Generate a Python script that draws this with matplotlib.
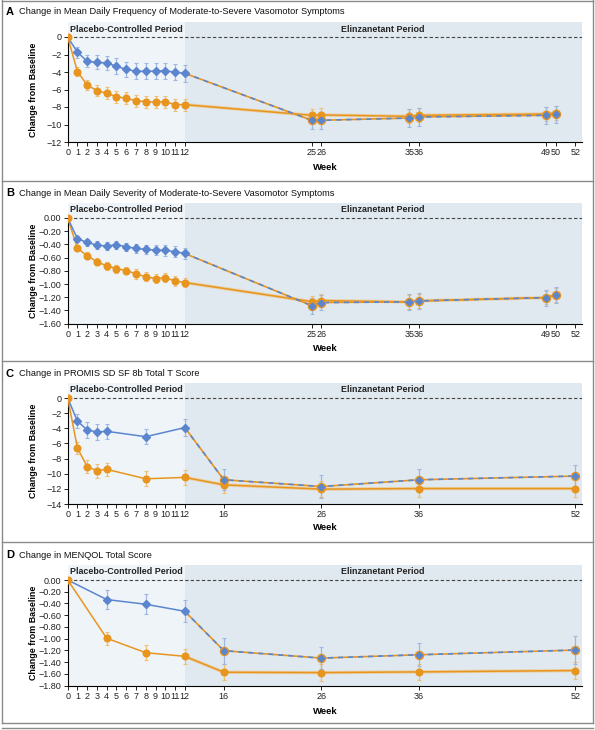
import numpy as np
import matplotlib.pyplot as plt
import matplotlib.transforms as mtransforms
from matplotlib.lines import Line2D

plt.rcParams['font.family'] = ['Liberation Sans', 'DejaVu Sans']

# panel A - daily frequency of VMS
weeks_a = [0, 1, 2, 3, 4, 5, 6, 7, 8, 9, 10, 11, 12, 25, 26, 35, 36, 49, 50]
pbo_a = [0, -1.75, -2.78, -2.9, -2.97, -3.35, -3.7, -3.92, -3.92, -3.9, -3.85, -4.04, -4.15,
         -9.52, -9.52, -9.26, -9.14, -8.95, -8.84]
pbo_a_err = [0, 0.6, 0.7, 0.8, 0.8, 0.9, 0.9, 0.9, 0.9, 0.9, 0.9, 0.9, 0.95,
             1.0, 1.0, 1.0, 1.0, 1.0, 1.0]
eli_a = [0, -3.96, -5.49, -6.13, -6.44, -6.82, -7.0, -7.28, -7.39, -7.43, -7.39, -7.73, -7.73,
         -8.95, -8.91, -9.07, -8.95, -8.8, -8.69]
eli_a_err = [0, 0.55, 0.6, 0.65, 0.7, 0.7, 0.7, 0.7, 0.7, 0.7, 0.7, 0.7, 0.7,
             0.75, 0.8, 0.8, 0.8, 0.8, 0.8]

# panel B - daily severity
weeks_b = weeks_a
pbo_b = [0, -0.314, -0.37, -0.41, -0.425, -0.405, -0.435, -0.46, -0.476, -0.486, -0.49, -0.51, -0.537,
         -1.327, -1.28, -1.27, -1.255, -1.205, -1.165]
pbo_b_err = [0, 0.04, 0.05, 0.06, 0.06, 0.06, 0.06, 0.07, 0.07, 0.07, 0.08, 0.08, 0.08,
             0.12, 0.12, 0.12, 0.12, 0.12, 0.12]
eli_b = [0, -0.46, -0.572, -0.663, -0.724, -0.765, -0.795, -0.846, -0.89, -0.916, -0.906, -0.952, -0.977,
         -1.266, -1.25, -1.27, -1.255, -1.205, -1.165]
eli_b_err = [0, 0.04, 0.05, 0.05, 0.06, 0.06, 0.06, 0.07, 0.07, 0.07, 0.07, 0.07, 0.07,
             0.09, 0.1, 0.1, 0.1, 0.1, 0.1]

# panel C - PROMIS SD SF 8b
weeks_c = [0, 1, 2, 3, 4, 8, 12, 16, 26, 36, 52]
pbo_c = [0, -3.07, -4.22, -4.49, -4.4, -5.11, -3.91, -10.8, -11.69, -10.8, -10.31]
pbo_c_err = [0, 0.9, 1.0, 1.0, 1.0, 1.0, 1.1, 1.4, 1.55, 1.4, 1.5]
eli_c = [0, -6.62, -9.07, -9.6, -9.42, -10.67, -10.49, -11.47, -12.04, -11.96, -11.96]
eli_c_err = [0, 0.8, 0.9, 0.9, 0.9, 1.0, 1.0, 1.1, 1.1, 1.1, 1.1]

# panel D - MENQOL
weeks_d = [0, 4, 8, 12, 16, 26, 36, 52]
pbo_d = [0, -0.333, -0.413, -0.533, -1.204, -1.33, -1.273, -1.193]
pbo_d_err = [0, 0.16, 0.17, 0.19, 0.22, 0.19, 0.2, 0.24]
eli_d = [0, -0.992, -1.238, -1.30, -1.571, -1.577, -1.565, -1.542]
eli_d_err = [0, 0.11, 0.13, 0.13, 0.14, 0.14, 0.14, 0.14]

ticks_ab = list(range(13)) + [25, 26, 35, 36, 49, 50, 52]
ticks_cd = list(range(13)) + [16, 26, 36, 52]

BLUE = '#5b86cf'
BLUE_L = '#9db6e2'
ORANGE = '#e8951f'
ORANGE_L = '#f1bf72'
BG1 = '#eff4f8'
BG2 = '#e0e9ef'

W, H = 595, 730
fig = plt.figure(figsize=(W / 100, H / 100), dpi=100)


def px(x, y):
    return x / W, 1 - y / H


def panel(letter, title, top, bottom, title_y, week_y, weeks, pbo, pbo_err, eli, eli_err,
          ymin, yticks, fmt, xticks):
    x0, x1 = 67.7, 582
    ax = fig.add_axes([x0 / W, 1 - bottom / H, (x1 - x0) / W, (bottom - top) / H])
    ypx = (bottom - top)
    zero_px = bottom - top - 15
    ymax = -ymin * (15 / zero_px)
    ax.set_xlim(0, 52.7)
    ax.set_ylim(ymin, ymax)
    ax.axvspan(0, 12, color=BG1, zorder=0, lw=0)
    ax.axvspan(12, 52.7, color=BG2, zorder=0, lw=0)
    ax.axhline(0, color='#444444', lw=0.8, ls=(0, (3, 2)), zorder=1)

    w = np.array(weeks)
    p = np.array(pbo)
    e = np.array(eli)
    pre = w <= 12
    post = w >= 12

    # elinzanetant group
    ax.errorbar(w, e, yerr=eli_err, fmt='none', ecolor=ORANGE_L, elinewidth=0.9,
                capsize=1.6, capthick=0.8, zorder=2)
    ax.plot(w[post], e[post], color=ORANGE_L, lw=2.4, alpha=0.6, zorder=3)
    ax.plot(w, e, color=ORANGE, lw=1.1, zorder=3)
    ax.plot(w[1:], e[1:], 'o', color=ORANGE, ms=4.8, zorder=4)

    # placebo -> elinzanetant
    ax.errorbar(w, p, yerr=pbo_err, fmt='none', ecolor=BLUE_L, elinewidth=0.9,
                capsize=1.6, capthick=0.8, zorder=2)
    ax.plot(w[pre], p[pre], color=BLUE, lw=1.1, zorder=3)
    ax.plot(w[post], p[post], color=ORANGE, lw=1.2, zorder=3)
    ax.plot(w[post], p[post], color=BLUE, lw=1.2, ls=(0, (3, 3)), zorder=3)
    ax.plot(w[1:][w[1:] <= 12], p[1:][w[1:] <= 12], 'D', color=BLUE, ms=4.2, zorder=5)
    ax.plot(w[w > 12], p[w > 12], 'o', color=ORANGE, ms=5.8, zorder=5)
    ax.plot(w[w > 12], p[w > 12], 'D', color=BLUE, ms=3.4, zorder=6)
    ax.plot([0], [0], 'o', color=ORANGE, ms=4.8, zorder=6)

    for s in ['top', 'right']:
        ax.spines[s].set_visible(False)
    ax.spines['left'].set_bounds(ymin, 0)
    ax.spines['left'].set_linewidth(0.8)
    ax.spines['bottom'].set_linewidth(0.8)
    ax.set_xticks(xticks)
    ax.set_xticklabels([str(t) for t in xticks])
    ax.set_yticks(yticks)
    ax.set_yticklabels([fmt(t) for t in yticks])
    ax.tick_params(length=3, width=0.7, labelsize=6.5, pad=1.5, colors='#222222')

    trans = mtransforms.blended_transform_factory(ax.transData, ax.transAxes)
    lab_y = 1 - 7 / ypx
    ax.text(6, lab_y, 'Placebo-Controlled Period', transform=trans, ha='center', va='center',
            fontsize=6.4, fontweight='bold', color='#222222')
    ax.text(32.3, lab_y, 'Elinzanetant Period', transform=trans, ha='center', va='center',
            fontsize=6.4, fontweight='bold', color='#222222')

    fig.text(*px(6, title_y), letter, fontsize=8, fontweight='bold', va='center', ha='left')
    fig.text(*px(19, title_y), title, fontsize=6.7, va='center', ha='left', color='#111111')
    fig.text(*px(325, week_y), 'Week', fontsize=6.8, fontweight='bold', va='center', ha='center')
    fig.text(*px(33, top + 15 + zero_px / 2), 'Change from Baseline', fontsize=6.4,
             fontweight='bold', rotation=90, va='center', ha='center')
    return ax


def fmt_int(v):
    return '0' if v == 0 else '\u2212' + str(int(round(-v)))


def fmt_dec(v):
    return '0.00' if v == 0 else '\u2212' + '%.2f' % (-v)


panel('A', 'Change in Mean Daily Frequency of Moderate-to-Severe Vasomotor Symptoms',
      22, 142, 12, 167, weeks_a, pbo_a, pbo_a_err, eli_a, eli_a_err,
      -12, [0, -2, -4, -6, -8, -10, -12], fmt_int, ticks_ab)
panel('B', 'Change in Mean Daily Severity of Moderate-to-Severe Vasomotor Symptoms',
      203, 323.7, 193, 348, weeks_b, pbo_b, pbo_b_err, eli_b, eli_b_err,
      -1.6, [0, -0.2, -0.4, -0.6, -0.8, -1.0, -1.2, -1.4, -1.6], fmt_dec, ticks_ab)
panel('C', 'Change in PROMIS SD SF 8b Total T Score',
      383, 504, 374, 528, weeks_c, pbo_c, pbo_c_err, eli_c, eli_c_err,
      -14, [0, -2, -4, -6, -8, -10, -12, -14], fmt_int, ticks_cd)
panel('D', 'Change in MENQOL Total Score',
      565, 685.7, 555, 711, weeks_d, pbo_d, pbo_d_err, eli_d, eli_d_err,
      -1.8, [0, -0.2, -0.4, -0.6, -0.8, -1.0, -1.2, -1.4, -1.6, -1.8], fmt_dec, ticks_cd)

# panel frames
for yy in [0.5, 181, 361, 542, 723, 728]:
    fig.add_artist(Line2D([2 / W, 593 / W], [1 - yy / H] * 2, color='#8a8a8a', lw=1.0))
for xx in [2, 593]:
    fig.add_artist(Line2D([xx / W] * 2, [1 - 0 / H, 1 - 723 / H], color='#8a8a8a', lw=1.0))

fig.savefig('out.png', dpi=100)
